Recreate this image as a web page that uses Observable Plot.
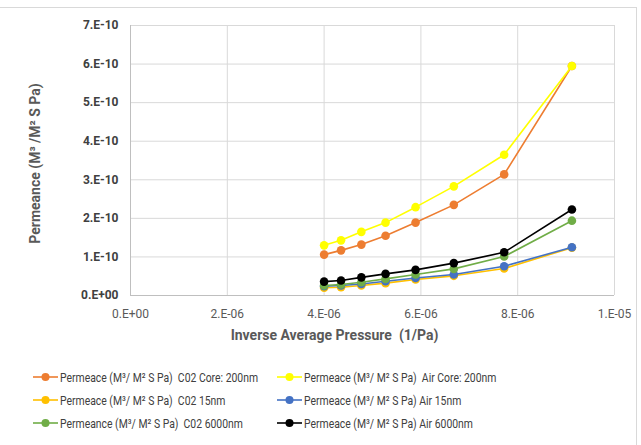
<!DOCTYPE html>
<html>
<head>
<meta charset="utf-8">
<script src="https://cdn.jsdelivr.net/npm/d3@7"></script>
<script src="https://cdn.jsdelivr.net/npm/@observablehq/plot@0.6"></script>
<style>
  body { margin: 0; background: #fff; }
  #wrap { position: relative; width: 641px; height: 445px; overflow: hidden; background:#fff;
          font-family: "Roboto", sans-serif; }
  #chart { position: absolute; left: 0; top: 0; }
  .leg { position: absolute; display: flex; align-items: center; font-size: 13px; color: #404040; white-space: pre; }
  .leg svg { margin-right: 2px; flex: none; }
  .leg span { display: inline-block; transform: scaleX(0.8); transform-origin: 0 50%; }
  #border { position:absolute; left:-5px; top:7px; width:642px; height:460px; border:1px solid #d9d9d9; box-sizing:border-box; }
</style>
</head>
<body>
<div id="wrap">
  <div id="border"></div>
  <div id="chart"></div>
  <div id="legend"></div>
</div>
<script>
// Inverse average pressure (1/Pa)
const invPressure = [4.0e-6, 4.35e-6, 4.77e-6, 5.27e-6, 5.89e-6, 6.68e-6, 7.72e-6, 9.12e-6];

// Permeance series (m3 / m2 s Pa)
const co2Core200 = [1.06e-10, 1.17e-10, 1.32e-10, 1.55e-10, 1.89e-10, 2.35e-10, 3.14e-10, 5.95e-10];
const airCore200 = [1.30e-10, 1.43e-10, 1.65e-10, 1.89e-10, 2.29e-10, 2.83e-10, 3.65e-10, 5.95e-10];
const co2_15 = [0.20e-10, 0.215e-10, 0.26e-10, 0.32e-10, 0.415e-10, 0.51e-10, 0.70e-10, 1.24e-10];
const air_15 = [0.24e-10, 0.26e-10, 0.30e-10, 0.37e-10, 0.455e-10, 0.545e-10, 0.76e-10, 1.25e-10];
const co2_6000 = [0.26e-10, 0.285e-10, 0.345e-10, 0.43e-10, 0.545e-10, 0.69e-10, 1.01e-10, 1.94e-10];
const air_6000 = [0.36e-10, 0.39e-10, 0.47e-10, 0.56e-10, 0.665e-10, 0.84e-10, 1.12e-10, 2.23e-10];

const seriesNames = [
  "Permeace (M³/ M² S Pa)  C02 Core: 200nm",
  "Permeace (M³/ M² S Pa)  Air Core: 200nm",
  "Permeace (M³/ M² S Pa)  C02 15nm",
  "Permeace (M³/ M² S Pa) Air 15nm",
  "Permeance (M³/ M² S Pa)  C02 6000nm",
  "Permeace (M³/ M² S Pa) Air 6000nm"
];
const seriesValues = [co2Core200, airCore200, co2_15, air_15, co2_6000, air_6000];
const seriesColors = ["#ED7D31", "#FFFF00", "#FFC000", "#4472C4", "#70AD47", "#000000"];

const xTicks = [0, 2e-6, 4e-6, 6e-6, 8e-6, 1e-5];
const yTicks = [0, 1e-10, 2e-10, 3e-10, 4e-10, 5e-10, 6e-10, 7e-10];

function excelFmt(d) {
  const [m, e] = d.toExponential(0).split("e");
  const n = +e;
  return m + ".E" + (n < 0 ? "-" : "+") + String(Math.abs(n)).padStart(2, "0");
}

const data = seriesNames.flatMap((name, i) =>
  invPressure.map((x, j) => ({ series: name, order: i, x, y: seriesValues[i][j] })));

const marks = [
  Plot.gridX(xTicks, { stroke: "#d9d9d9", strokeOpacity: 1, strokeWidth: 1 }),
  Plot.gridY(yTicks, { stroke: "#d9d9d9", strokeOpacity: 1, strokeWidth: 1 }),
  Plot.ruleY([0], { stroke: "#bfbfbf" }),
  Plot.ruleX([0], { stroke: "#bfbfbf" }),
  Plot.axisX(xTicks, { tickSize: 0, tickPadding: 14, tickFormat: excelFmt, fill: "#595959",
    fontSize: 12, label: "Inverse Average Pressure  (1/Pa)", labelArrow: "none", labelAnchor: "center", labelOffset: 44 }),
  Plot.axisY(yTicks, { tickSize: 0, tickPadding: 12, tickFormat: excelFmt, fill: "#404040",
    fontSize: 12, fontWeight: "bold", label: "Permeance (M³ /M² S Pa)", labelArrow: "none", labelAnchor: "center", labelOffset: 100 })
];
seriesNames.forEach((name, i) => {
  const d = data.filter(r => r.order === i);
  marks.push(Plot.line(d, { x: "x", y: "y", stroke: seriesColors[i], strokeWidth: 1.6 }));
  marks.push(Plot.dot(d, { x: "x", y: "y", fill: seriesColors[i], r: 4.3 }));
});

const chart = Plot.plot({
  width: 641,
  height: 360,
  marginLeft: 130,
  marginRight: 27,
  marginTop: 25,
  marginBottom: 65,
  style: { fontFamily: "Roboto, sans-serif", background: "transparent", overflow: "visible" },
  x: { domain: [0, 1e-5] },
  y: { domain: [0, 7e-10] },
  marks
});
// style axis titles (bold, grey, larger) and nudge them
function nudge(sel, dx, dy) {
  const g = chart.querySelector(sel);
  if (!g) return;
  g.setAttribute("font-weight", "bold");
  g.setAttribute("font-size", "14");
  g.setAttribute("fill", "#595959");
  const w = document.createElementNS("http://www.w3.org/2000/svg", "g");
  w.setAttribute("transform", `translate(${dx},${dy})`);
  g.parentNode.insertBefore(w, g);
  w.appendChild(g);
}
nudge("[aria-label='x-axis label']", -38, 0);
nudge("[aria-label='y-axis label']", 0, 3);
document.getElementById("chart").append(chart);

// Legend (HTML, below the plot)
const legPos = [[33, 377], [277, 377], [33, 400], [277, 400], [33, 423], [277, 423]];
const legend = document.getElementById("legend");
seriesNames.forEach((name, i) => {
  const el = document.createElement("div");
  el.className = "leg";
  el.style.left = legPos[i][0] + "px";
  el.style.top = (legPos[i][1] - 9) + "px";
  el.innerHTML = `<svg width="25" height="18"><line x1="0" x2="25" y1="9" y2="9" stroke="${seriesColors[i]}" stroke-width="1.6"/><circle cx="12.5" cy="9" r="4" fill="${seriesColors[i]}"/></svg>`;
  const t = document.createElement("span");
  t.textContent = name;
  el.append(t);
  legend.append(el);
});
</script>
</body>
</html>
